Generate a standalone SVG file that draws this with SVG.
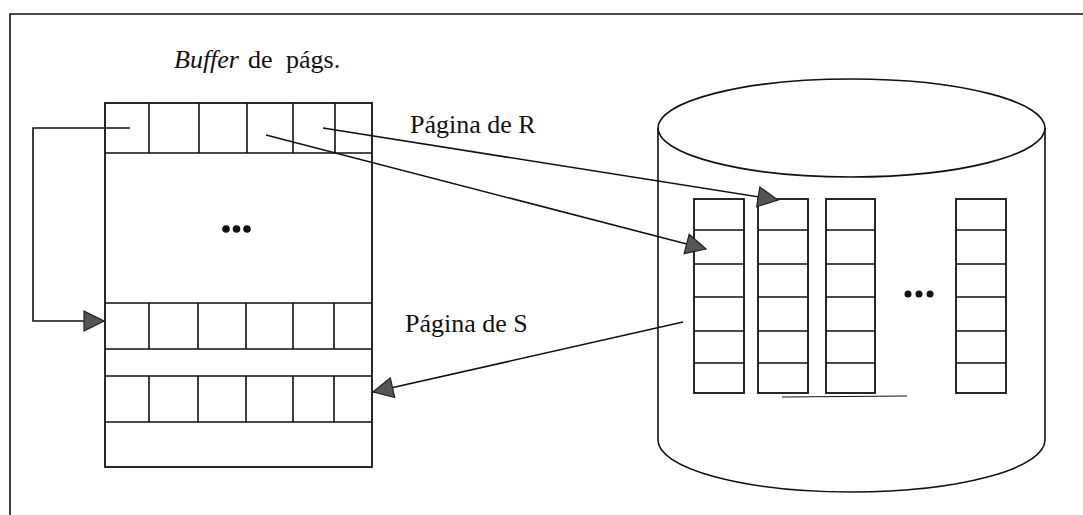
<svg xmlns="http://www.w3.org/2000/svg" width="1083" height="515" viewBox="0 0 1083 515">
  <style>
    .ln { fill: none; stroke: #111; stroke-width: 1.6; }
    .box { fill: #fff; stroke: #111; stroke-width: 1.8; }
    .thin { fill: none; stroke: #111; stroke-width: 1.2; }
    .lbl { font-size: 26px; fill: #111; }
    .dot { fill: #111; }
  </style>
  <defs>
    <marker id="ah" markerUnits="userSpaceOnUse" markerWidth="22" markerHeight="22" viewBox="0 0 22 22" refX="21" refY="11" orient="auto">
      <path d="M1,1 L21,11 L1,21 Z" fill="#555" stroke="#222" stroke-width="1.2"/>
    </marker>
  </defs>
  <rect width="1083" height="515" fill="#fff"/>

  <g id="frame">
    <path class="ln" d="M10,515 L10,14 L1083,14"/>
  </g>

  <g id="buffer">
    <rect class="box" x="105" y="103" width="267" height="364"/>
    <path class="ln" d="M105,153 H372 M105,303 H372 M105,349 H372 M105,376 H372 M105,422 H372"/>
    <path class="ln" d="M149,103 V153 M199,103 V153 M247,103 V153 M293,103 V153 M335,103 V153"/>
    <path class="ln" d="M149,303 V349 M198,303 V349 M246,303 V349 M293,303 V349 M334,303 V349"/>
    <path class="ln" d="M149,376 V422 M198,376 V422 M246,376 V422 M293,376 V422 M334,376 V422"/>
    <circle class="dot" cx="226" cy="229" r="3.8"/>
    <circle class="dot" cx="236.5" cy="229" r="3.8"/>
    <circle class="dot" cx="247" cy="229" r="3.8"/>
  </g>

  <g id="disk">
    <path class="ln" d="M658,128 V440 A193.5,52 0 0 0 1045,440 V128"/>
    <ellipse class="ln" cx="851.5" cy="128" rx="193.5" ry="49"/>
    <path class="thin" d="M782,397 L907,396"/>
    <g id="col1">
      <rect class="box" x="694" y="199" width="50" height="194"/>
      <path class="ln" d="M694,230 H744 M694,264 H744 M694,297 H744 M694,331 H744 M694,363 H744"/>
    </g>
    <g id="col2">
      <rect class="box" x="758" y="199" width="50" height="194"/>
      <path class="ln" d="M758,230 H808 M758,264 H808 M758,297 H808 M758,331 H808 M758,363 H808"/>
    </g>
    <g id="col3">
      <rect class="box" x="826" y="199" width="49" height="194"/>
      <path class="ln" d="M826,230 H875 M826,264 H875 M826,297 H875 M826,331 H875 M826,363 H875"/>
    </g>
    <g id="col4">
      <rect class="box" x="956" y="199" width="50" height="194"/>
      <path class="ln" d="M956,230 H1006 M956,264 H1006 M956,297 H1006 M956,331 H1006 M956,363 H1006"/>
    </g>
    <circle class="dot" cx="908" cy="294" r="3.5"/>
    <circle class="dot" cx="919" cy="294" r="3.5"/>
    <circle class="dot" cx="930" cy="294" r="3.5"/>
  </g>

  <g id="connectors">
    <path class="ln" d="M130,128 H33 V321 H104" marker-end="url(#ah)"/>
    <path class="ln" d="M323,128 L778,200" marker-end="url(#ah)"/>
    <path class="ln" d="M266,135 L706,249" marker-end="url(#ah)"/>
    <path class="ln" d="M683,322 L373,392" marker-end="url(#ah)"/>
  </g>

  <g id="labels" font-family="'Liberation Serif', 'Times New Roman', 'DejaVu Serif', serif">
    <text class="lbl" x="174" y="68"><tspan font-style="italic">Buffer</tspan><tspan x="248">de</tspan><tspan x="286">págs.</tspan></text>
    <text class="lbl" x="410" y="133">Página de R</text>
    <text class="lbl" x="405" y="332">Página de S</text>
  </g>
</svg>
